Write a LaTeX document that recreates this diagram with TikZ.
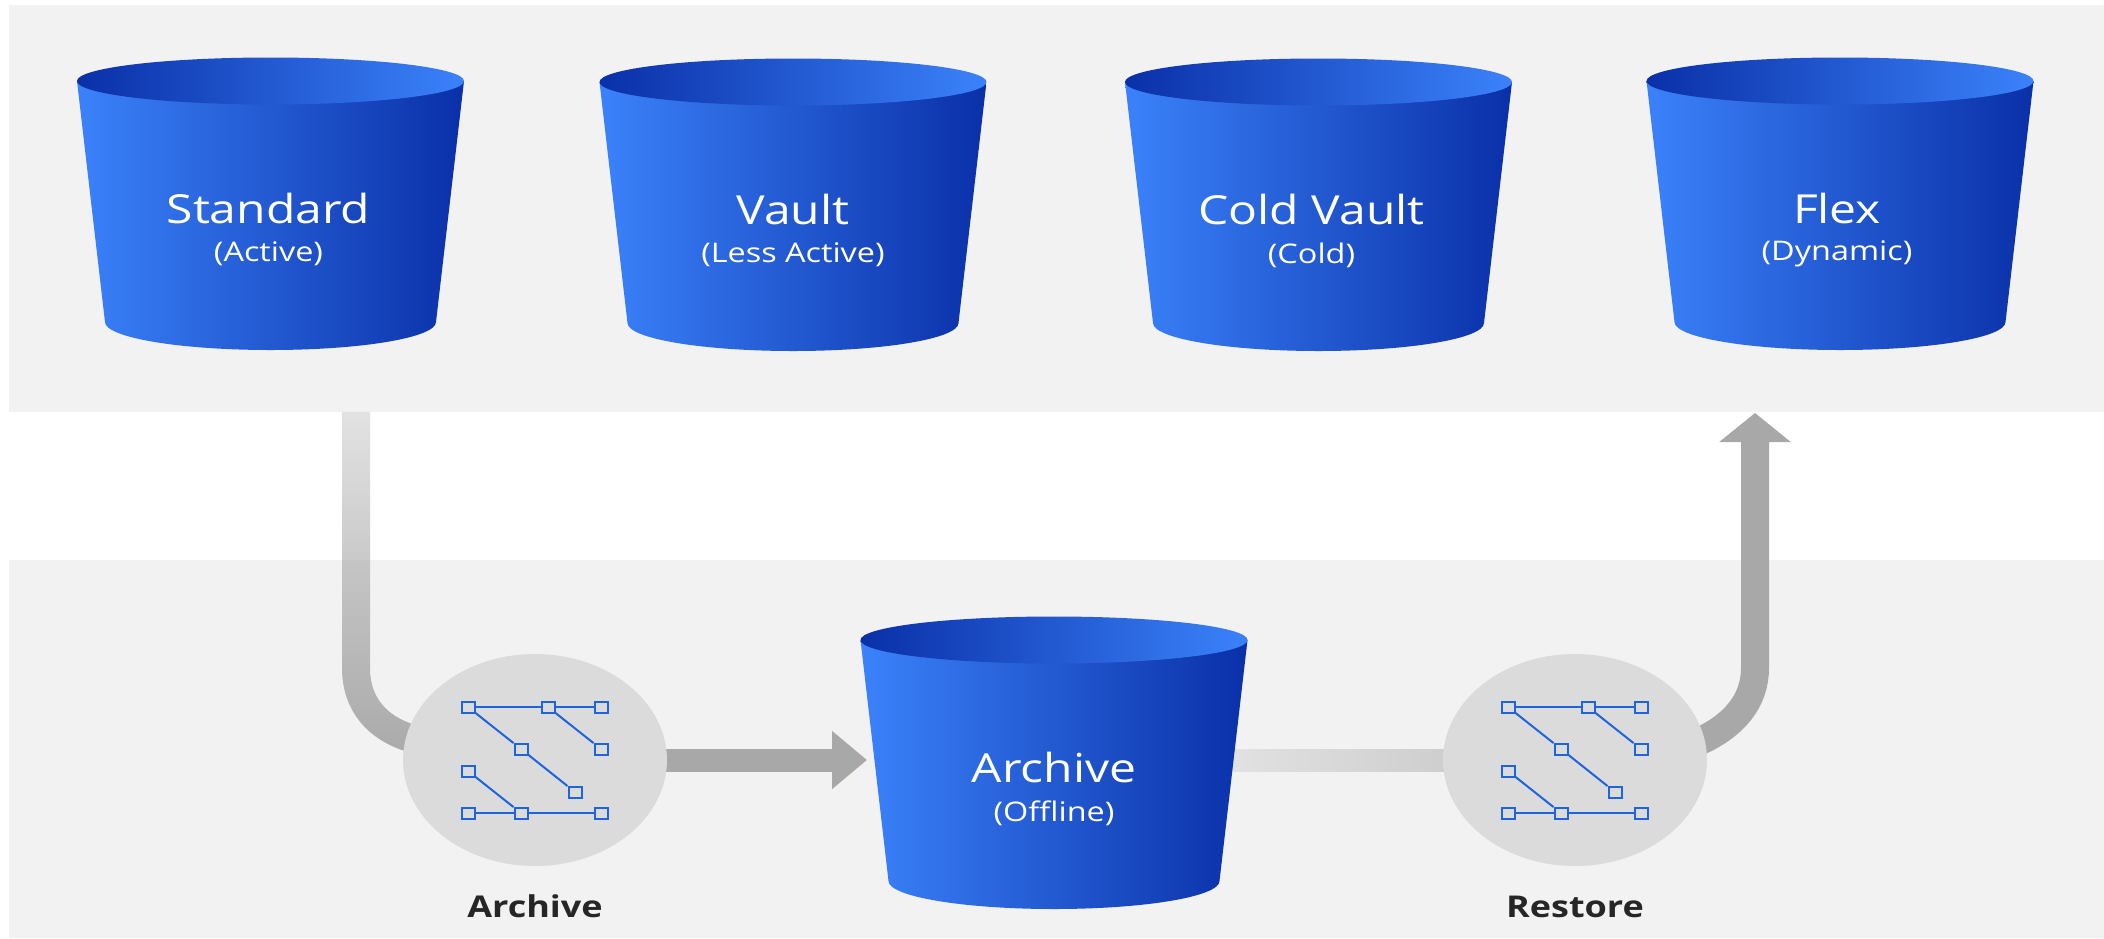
\documentclass[tikz,border=0pt]{standalone}
\usepackage{fontspec}
\setmainfont[FakeStretch=1.2]{Open Sans}
\usetikzlibrary{positioning,arrows.meta,shapes.geometric,fadings}
\definecolor{panelgray}{HTML}{F2F2F2}
\definecolor{hubgray}{HTML}{DBDBDB}
\definecolor{bucketlight}{HTML}{3B82FA}
\definecolor{bucketdark}{HTML}{0A30A8}
\definecolor{flowgray}{HTML}{A8A8A8}
\definecolor{flowpale}{HTML}{C2C2C2}
\definecolor{iconblue}{HTML}{1C64E0}
\tikzfading[name=fadefromtop, top color=transparent!70, bottom color=transparent!0]
\tikzfading[name=fadefromleft, left color=transparent!70, right color=transparent!0]
\begin{document}
\begin{tikzpicture}[x=0.5pt, y=-0.5pt,
	panel/.style={fill=panelgray},
	bucketbody/.style={left color=bucketlight, right color=bucketdark},
	bucketrim/.style={left color=bucketdark, right color=bucketlight},
	bucketname/.style={text=white, font=\fontsize{20}{24}\selectfont, inner sep=0pt},
	bucketsub/.style={text=white, font=\fontsize{13.5}{16}\selectfont, inner sep=0pt},
	hub/.style={draw=none, fill=hubgray, ellipse, minimum width=132pt, minimum height=106pt, inner sep=0pt},
	hubname/.style={text=black!85, font=\fontsize{15}{18}\selectfont\bfseries, inner sep=0pt},
	knot/.style={draw=iconblue, line width=1pt, minimum width=6.5pt, minimum height=5.5pt, inner sep=0pt},
	link/.style={draw=iconblue, line width=1pt}]

	\useasboundingbox (0,0) rectangle (2104,938);
	\fill[white] (0,0) rectangle (2104,938);
	\fill[panel] (9,5) rectangle (2104,412);
	\fill[panel] (9,560) rectangle (2104,938);

	\coordinate (archivehub) at (535,760);
	\coordinate (restorehub) at (1575,760);
	\coordinate (leavetop) at (356,412);
	\coordinate (archiveleft) at (867,760);
	\coordinate (archiveright) at (1225,760);
	\coordinate (entertop) at (1755,413);

	\draw[flowgray, line width=14pt, line join=round, path fading=fadefromtop] (leavetop) -- (356,668)
		.. controls (356,705) and (378,728) .. (410,738) -- (archivehub);
	\draw[flowgray, line width=11.5pt, -{Triangle[width=28pt,length=17.5pt]}] (archivehub) -- (archiveleft);
	\draw[flowpale, line width=11.5pt, path fading=fadefromleft] (archiveright) -- (restorehub);
	\draw[flowgray, line width=14pt, line join=round, -{Triangle[width=35pt,length=14.5pt]}] (restorehub) -- (1700,741)
		.. controls (1735,725) and (1755,700) .. (1755,668) -- (entertop);

	\foreach \bname/\cx/\ty/\tx/\title/\sub in {standard/270.5/81/-2/Standard/Active, vault/793/82/0/Vault/Less Active,
		cold/1318.5/82/-7/Cold Vault/Cold, flex/1840/81/-3/Flex/Dynamic, archive/1054/640/0/Archive/Offline} {
		\begin{scope}[shift={(\cx,\ty)}]
			\shade[bucketbody] (-193.5,0) -- (-165.5,241) arc[start angle=180, end angle=0, x radius=165.5, y radius=28] -- (193.5,0) -- cycle;
			\shade[bucketrim] (0,0) ellipse [x radius=193.5, y radius=23.5];
			\node[bucketname] (\bname) at (\tx,127) {\title};
			\node[bucketsub] (\bname sub) at (\tx,173) {(\sub)};
		\end{scope}
	}

	\node[hub] (archive hub) at (archivehub) {};
	\node[hub] (restore hub) at (restorehub) {};
	\node[hubname, below=20pt of archive hub.south, anchor=center] (archive label) {Archive};
	\node[hubname, below=20.5pt of restore hub.south, anchor=center] (restore label) {Restore};

	\foreach \ic/\ox in {a/535, r/1575} {
		\begin{scope}[shift={(\ox,760)}]
			\node[knot] (\ic1) at (-67,-53) {};
			\node[knot] (\ic2) at (13,-53) {};
			\node[knot] (\ic3) at (66,-53) {};
			\node[knot] (\ic4) at (-14,-11) {};
			\node[knot] (\ic5) at (66,-11) {};
			\node[knot] (\ic6) at (-67,11) {};
			\node[knot] (\ic7) at (40,32) {};
			\node[knot] (\ic8) at (-67,53) {};
			\node[knot] (\ic9) at (-14,53) {};
			\node[knot] (\ic10) at (66,53) {};

			\draw[link] (\ic1) -- (\ic2) -- (\ic3);
			\draw[link] (\ic1) -- (\ic4) -- (\ic7);
			\draw[link] (\ic2) -- (\ic5);
			\draw[link] (\ic6) -- (\ic9);
			\draw[link] (\ic8) -- (\ic9) -- (\ic10);
		\end{scope}
	}
\end{tikzpicture}
\end{document}
